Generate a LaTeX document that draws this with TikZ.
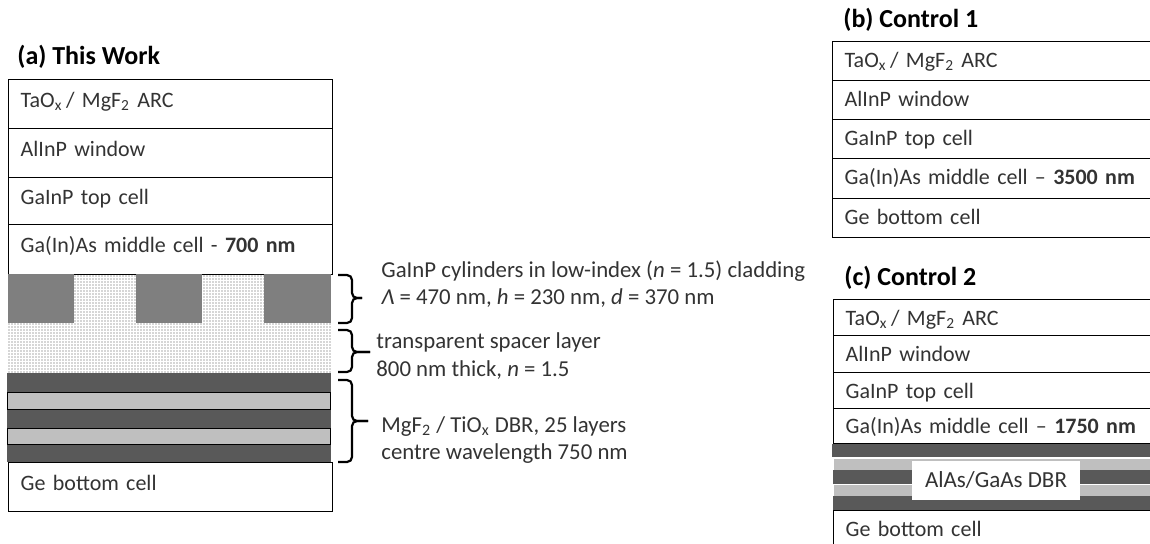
\documentclass[tikz,border=0pt]{standalone}
\usepackage{fontspec}
\setmainfont{Carlito}
\usetikzlibrary{patterns.meta}
\definecolor{inkgray}{HTML}{333333}
\definecolor{dbrdark}{HTML}{595959}
\definecolor{dbrlight}{HTML}{BFBFBF}
\definecolor{cylgray}{HTML}{7F7F7F}
\tikzset{
  layerbox/.style={draw=black, line width=0.7pt, fill=white, anchor=north west, inner xsep=6pt, inner ysep=0pt, align=left, minimum height=#1*0.5pt},
  wide/.style={text width=150pt, text height=8pt, text depth=5pt},
  narrow/.style={text width=200pt, text height=8pt, text depth=1.8pt},
  narrowlow/.style={text width=200pt, text height=9pt, text depth=1.3pt},
  note/.style={anchor=west, align=left, inner sep=0pt, text=inkgray, font=\fontsize{11.4}{13.6}\selectfont},
  heading/.style={anchor=west, inner sep=0pt, text=black, font=\fontsize{13}{15}\selectfont\bfseries},
  bracebar/.style={draw=black, line width=1.1pt, rounded corners=2.5pt}
}
\begin{document}
\begin{tikzpicture}[x=0.5pt, y=-0.5pt, font=\fontsize{11}{13}\selectfont, text=inkgray]
  \useasboundingbox (0,0) rectangle (1150,543);
  % (a) this work
  \node[heading] (aTitle) at (17,57) {(a) This Work};
  \node[layerbox=49, wide] (aArc) at (8,79) {TaO\textsubscript{x}\,/ MgF\textsubscript{2} ARC};
  \node[layerbox=49, wide] (aWindow) at (8,128) {AlInP window};
  \node[layerbox=47, wide] (aTop) at (8,177) {GaInP top cell};
  \node[layerbox=50, wide] (aMiddle) at (8,224) {Ga(In)As middle cell - \textbf{700 nm}};
  \fill[pattern={Dots[distance=1.5pt, radius=0.33pt]}, pattern color=black!70] (8,274) rectangle (331,373);
  \foreach \xa/\xb in {8/74, 136/202, 264/331}
    \fill[cylgray] (\xa,274) rectangle (\xb,323);
  \fill[dbrdark] (7,373) rectangle (331,462);
  \foreach \ya/\yb in {392/409, 428/444}
    \draw[fill=dbrlight, line width=0.5pt] (7,\ya) rectangle (330,\yb);
  \node[layerbox=49, wide] (aGe) at (8,462) {Ge bottom cell};
  % braces
  \foreach \yt/\ym/\yb/\xt in {275/298/323/362, 330/352/372/370, 380/421/462/368} {
    \draw[bracebar] (338,\yt) -- (352,\yt) -- (352,\ym) -- (\xt,\ym);
    \draw[bracebar] (338,\yb) -- (352,\yb) -- (352,\ym) -- (\xt,\ym);
  }
  \node[note] (cylNote) at (381,284) {GaInP cylinders in low-index (\textit{n} = 1.5) cladding\\\textit{Λ} = 470 nm, \textit{h} = 230 nm, \textit{d} = 370 nm};
  \node[note] (spaNote) at (376,356) {transparent spacer layer\\800 nm thick, \textit{n} = 1.5};
  \node[note] (dbrNote) at (381,440) {MgF\textsubscript{2} / TiO\textsubscript{x} DBR, 25 layers\\centre wavelength 750 nm};
  % (b) control 1
  \node[heading] (bTitle) at (843,20) {(b) Control 1};
  \node[layerbox=39, narrow] (bArc) at (832,41) {TaO\textsubscript{x}\,/ MgF\textsubscript{2} ARC};
  \node[layerbox=39, narrow] (bWindow) at (832,80) {AlInP window};
  \node[layerbox=39, narrow] (bTop) at (832,119) {GaInP top cell};
  \node[layerbox=40, narrow] (bMiddle) at (832,158) {Ga(In)As middle cell -- \textbf{3500 nm}};
  \node[layerbox=39, narrow] (bGe) at (832,198) {Ge bottom cell};
  % (c) control 2
  \node[heading] (cTitle) at (844,278) {(c) Control 2};
  \node[layerbox=36, narrowlow] (cArc) at (833,299) {TaO\textsubscript{x}\,/ MgF\textsubscript{2} ARC};
  \node[layerbox=37, narrowlow] (cWindow) at (833,335) {AlInP window};
  \node[layerbox=36, narrowlow] (cTop) at (833,372) {GaInP top cell};
  \node[layerbox=35, narrowlow] (cMiddle) at (833,408) {Ga(In)As middle cell -- \textbf{1750 nm}};
  \fill[dbrdark] (832,444) rectangle (1160,457);
  \fill[dbrdark] (833,470) rectangle (1160,484);
  \fill[dbrdark] (833,496) rectangle (1160,510);
  \foreach \ya/\yb in {459/470, 485/496}
    \fill[dbrlight] (834,\ya) rectangle (1160,\yb);
  \node[fill=white, minimum width=84pt, minimum height=19.5pt, inner sep=0pt, font=\fontsize{11.5}{13}\selectfont] (cDbr) at (996,480) {AlAs/GaAs DBR};
  \node[layerbox=40, narrow] (cGe) at (833,510) {Ge bottom cell};
\end{tikzpicture}
\end{document}
